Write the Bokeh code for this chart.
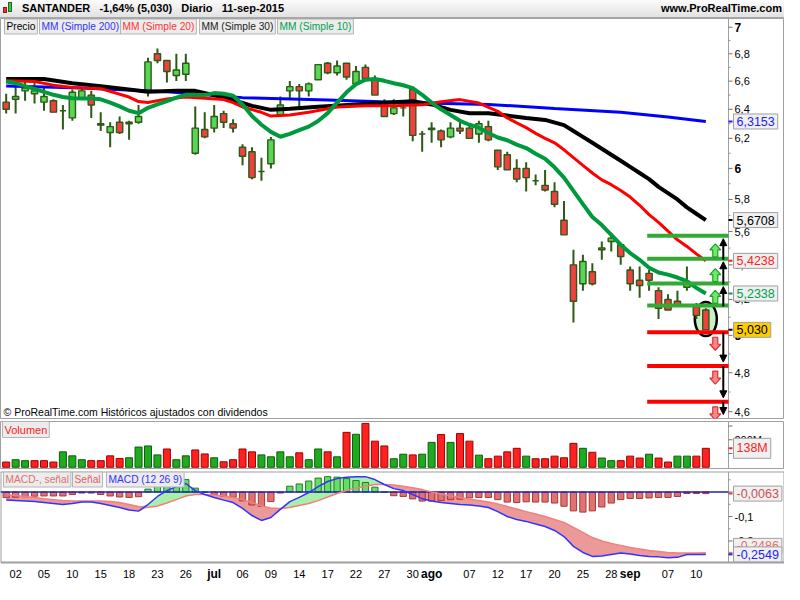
import math
from bokeh.plotting import figure
from bokeh.models import Range1d, Label, Div, ColumnDataSource, Arrow, NormalHead
from bokeh.layouts import column
from bokeh.embed import file_html
from bokeh.resources import INLINE
from bokeh.core.properties import value

# ---------------- data ----------------
tick_pos = [1, 4, 7, 10, 13, 16, 19, 22, 25, 28, 31, 34, 37, 40, 43, 45, 49, 52, 55, 58, 61, 64, 66, 70, 73]
tick_text = ["02", "05", "10", "15", "18", "23", "26", "jul", "06", "09", "14", "17", "22", "27", "30",
             "ago", "07", "12", "17", "20", "25", "28", "sep", "07", "10"]
month_ticks = ["jul", "ago", "sep"]

opens = [6.45, 6.47, 6.53, 6.51, 6.45, 6.46, 6.39, 6.34, 6.48, 6.50,
         6.30, 6.24, 6.31, 6.30, 6.31, 6.53, 6.80, 6.75, 6.64, 6.65,
         6.10, 6.26, 6.27, 6.37, 6.30, 6.14, 6.11, 5.98, 6.03, 6.36,
         6.53, 6.56, 6.53, 6.61, 6.73, 6.66, 6.73, 6.58, 6.70, 6.61,
         6.44, 6.37, 6.41, 6.54, 6.23, 6.26, 6.25, 6.21, 6.27, 6.27,
         6.23, 6.28, 6.12, 6.09, 6.00, 6.00, 5.92, 5.89, 5.85, 5.67,
         5.40, 5.29, 5.36, 5.49, 5.54, 5.52, 5.37, 5.31, 5.35, 5.25,
         5.20, 5.19, 5.27, 5.16, 5.14]
highs = [6.51, 6.58, 6.60, 6.63, 6.55, 6.47, 6.43, 6.54, 6.55, 6.53,
         6.38, 6.31, 6.35, 6.32, 6.43, 6.77, 6.84, 6.75, 6.80, 6.80,
         6.42, 6.38, 6.43, 6.39, 6.33, 6.16, 6.14, 6.07, 6.21, 6.49,
         6.60, 6.58, 6.59, 6.72, 6.74, 6.75, 6.73, 6.71, 6.72, 6.64,
         6.47, 6.47, 6.45, 6.54, 6.25, 6.31, 6.26, 6.31, 6.31, 6.29,
         6.32, 6.32, 6.12, 6.11, 6.06, 6.04, 5.96, 5.99, 5.91, 5.79,
         5.49, 5.46, 5.41, 5.54, 5.59, 5.52, 5.39, 5.39, 5.37, 5.27,
         5.23, 5.25, 5.39, 5.18, 5.15]
lows = [6.37, 6.37, 6.46, 6.44, 6.39, 6.38, 6.26, 6.32, 6.47, 6.34,
        6.25, 6.14, 6.23, 6.19, 6.30, 6.49, 6.73, 6.59, 6.60, 6.60,
        6.09, 6.20, 6.24, 6.27, 6.24, 6.02, 5.93, 5.92, 6.00, 6.36,
        6.48, 6.41, 6.49, 6.61, 6.65, 6.64, 6.61, 6.58, 6.61, 6.50,
        6.35, 6.36, 6.35, 6.18, 6.11, 6.17, 6.14, 6.20, 6.23, 6.20,
        6.17, 6.18, 5.99, 5.99, 5.91, 5.85, 5.89, 5.85, 5.75, 5.58,
        5.07, 5.25, 5.28, 5.43, 5.48, 5.40, 5.25, 5.21, 5.25, 5.09,
        5.14, 5.16, 5.25, 5.09, 5.03]
closes = [6.40, 6.49, 6.55, 6.53, 6.49, 6.38, 6.39, 6.52, 6.53, 6.43,
          6.29, 6.28, 6.24, 6.31, 6.35, 6.74, 6.75, 6.67, 6.68, 6.73,
          6.27, 6.21, 6.35, 6.31, 6.27, 6.08, 5.94, 5.98, 6.19, 6.43,
          6.56, 6.53, 6.58, 6.72, 6.66, 6.71, 6.63, 6.67, 6.62, 6.50,
          6.35, 6.41, 6.41, 6.22, 6.23, 6.27, 6.19, 6.27, 6.25, 6.20,
          6.30, 6.19, 6.01, 5.99, 5.93, 5.94, 5.92, 5.86, 5.77, 5.58,
          5.19, 5.42, 5.29, 5.50, 5.56, 5.45, 5.29, 5.28, 5.31, 5.15,
          5.14, 5.17, 5.29, 5.11, 5.03]

volume_m = [38, 55, 48, 48, 48, 38, 112, 83, 55, 48,
            48, 83, 64, 69, 147, 155, 90, 133, 55, 83,
            126, 97, 69, 40, 55, 133, 112, 90, 76, 112,
            76, 105, 55, 133, 112, 76, 254, 240, 319, 190,
            155, 62, 95, 90, 95, 181, 238, 181, 245, 190,
            88, 62, 81, 112, 138, 81, 62, 62, 81, 69,
            174, 138, 109, 67, 48, 48, 81, 67, 95, 67,
            38, 81, 81, 81, 138]

ma10 = [6.597, 6.585, 6.564, 6.544, 6.523, 6.502, 6.486, 6.478, 6.475, 6.475,
        6.47, 6.447, 6.42, 6.39, 6.373, 6.41, 6.434, 6.457, 6.482, 6.502,
        6.50, 6.50, 6.514, 6.509, 6.495, 6.434, 6.353, 6.293, 6.244, 6.211,
        6.231, 6.256, 6.28, 6.319, 6.373, 6.447, 6.52, 6.578, 6.61, 6.615,
        6.602, 6.585, 6.57, 6.55, 6.502, 6.447, 6.40, 6.36, 6.32, 6.293,
        6.273, 6.236, 6.206, 6.187, 6.158, 6.135, 6.097, 6.064, 6.007, 5.94,
        5.855, 5.77, 5.69, 5.64, 5.58, 5.52, 5.47, 5.43, 5.383, 5.355,
        5.343, 5.326, 5.305, 5.266, 5.2338]

ma20_idx = [0, 3, 5, 7, 10, 13, 14, 15, 17, 19, 21, 23, 24, 25, 27, 28, 30, 32, 35, 38,
            41, 44, 46, 48, 50, 52, 53, 54, 55, 56, 57, 58, 59, 60, 61, 62, 63, 64,
            65, 66, 67, 68, 69, 70, 71, 72, 73, 74]
ma20 = [6.602, 6.597, 6.571, 6.554, 6.546, 6.486, 6.454, 6.447, 6.473, 6.486,
        6.478, 6.468, 6.447, 6.416, 6.379, 6.353, 6.36, 6.379, 6.416, 6.424,
        6.424, 6.431, 6.453, 6.468, 6.444, 6.386, 6.34, 6.306, 6.273, 6.234,
        6.20, 6.17, 6.123, 6.071, 6.02, 5.97, 5.925, 5.894, 5.857, 5.815,
        5.763, 5.705, 5.657, 5.603, 5.55, 5.51, 5.465, 5.4238]

ma30_idx = [0, 4, 7, 10, 15, 18, 20, 22, 24, 26, 28, 30, 33, 37, 41, 43, 45, 47, 49, 51,
            53, 55, 57, 59, 60, 61, 62, 63, 64, 65, 66, 67, 68, 69, 70, 71, 72, 73, 74]
ma30 = [6.615, 6.615, 6.585, 6.564, 6.523, 6.53, 6.53, 6.499, 6.465, 6.424,
        6.396, 6.403, 6.417, 6.434, 6.45, 6.457, 6.434, 6.396, 6.373, 6.373,
        6.356, 6.34, 6.326, 6.29, 6.25, 6.21, 6.17, 6.13, 6.09, 6.05,
        6.01, 5.97, 5.93, 5.88, 5.84, 5.80, 5.75, 5.71, 5.6708]

ma200_idx = [0, 8, 17, 25, 34, 42, 51, 58, 65, 70, 74]
ma200 = [6.564, 6.55, 6.523, 6.482, 6.465, 6.447, 6.434, 6.406, 6.379, 6.346, 6.3153]

macd = [-0.033, -0.035, -0.037, -0.039, -0.043, -0.047, -0.051, -0.047, -0.041, -0.041,
        -0.047, -0.055, -0.063, -0.073, -0.078, -0.051, -0.018, 0.006, 0.022, 0.035,
        0.006, -0.010, -0.022, -0.033, -0.043, -0.067, -0.096, -0.116, -0.104, -0.071,
        -0.039, -0.022, -0.002, 0.022, 0.043, 0.055, 0.061, 0.063, 0.063, 0.051,
        0.031, 0.014, 0.006, -0.010, -0.027, -0.037, -0.043, -0.047, -0.051, -0.053,
        -0.057, -0.063, -0.080, -0.100, -0.112, -0.120, -0.131, -0.141, -0.157, -0.182,
        -0.222, -0.247, -0.263, -0.261, -0.255, -0.249, -0.253, -0.259, -0.263, -0.265,
        -0.269, -0.267, -0.255, -0.255, -0.2549]
signal = [-0.010, -0.014, -0.018, -0.022, -0.027, -0.031, -0.035, -0.037, -0.037, -0.037,
          -0.037, -0.039, -0.043, -0.051, -0.059, -0.063, -0.057, -0.045, -0.031, -0.016,
          -0.010, -0.010, -0.012, -0.016, -0.022, -0.031, -0.043, -0.057, -0.065, -0.067,
          -0.063, -0.055, -0.047, -0.035, -0.020, -0.006, 0.006, 0.016, 0.024, 0.031,
          0.031, 0.029, 0.024, 0.018, 0.010, 0.000, -0.008, -0.016, -0.022, -0.029,
          -0.035, -0.041, -0.049, -0.059, -0.069, -0.080, -0.090, -0.100, -0.112, -0.124,
          -0.145, -0.165, -0.186, -0.200, -0.210, -0.218, -0.227, -0.233, -0.239, -0.243,
          -0.247, -0.249, -0.249, -0.249, -0.2486]

green_levels = [5.575, 5.436, 5.291, 5.166]
red_levels = [5.017, 4.835, 4.65]

price_ticks = [4.6, 4.8, 5.0, 5.2, 5.4, 5.6, 5.8, 6.0, 6.2, 6.4, 6.6, 6.8, 7.0]
price_minor = [4.7, 4.9, 5.1, 5.3, 5.5, 5.7, 5.9, 6.1, 6.3, 6.5, 6.7, 6.9]
vol_ticks = [100, 200, 300]
macd_ticks = [-0.2, -0.1, 0.0]
macd_minor = [-0.25, -0.15, -0.05, 0.05]

# ---------------- layout constants ----------------
FONT = "Liberation Sans"
TOTAL_W = 784
PLOT_W = 728
PRICE_H = 400
VOL_H = 47
MACD_H = 91
XLAB_H = 22

n = len(closes)
x = list(range(n))
X0, AXIS_X = -0.6, 76.4
KX = PLOT_W / (AXIS_X - X0)
xr = Range1d(X0, AXIS_X + (TOTAL_W - PLOT_W) / KX)

P_BOT, P_TOP = 4.566, 7.067
KY = PRICE_H / math.log(P_TOP / P_BOT)
V_BOT, V_TOP = -9, 333
KV = VOL_H / (V_TOP - V_BOT)
M_BOT, M_TOP = -0.288, 0.084
KM = MACD_H / (M_TOP - M_BOT)
M_EXT = M_BOT - XLAB_H / KM

AX_COL = "#A0A0A0"


def base_fig(h, y_range, **kw):
    f = figure(frame_width=TOTAL_W, frame_height=h, x_range=xr, y_range=y_range,
               x_axis_location=None, y_axis_location=None, toolbar_location=None,
               output_backend="svg", min_border_left=0, min_border_right=0,
               min_border_top=0, **kw)
    f.grid.visible = False
    f.outline_line_color = AX_COL
    f.border_fill_color = "white"
    return f


def right_axis(f, ticks, labels, minor, y0, y1, bold=()):
    f.segment(x0=[AXIS_X], x1=[AXIS_X], y0=[y0], y1=[y1], line_color=AX_COL, line_width=1)
    f.segment(x0=[AXIS_X] * len(ticks), x1=[AXIS_X + 4 / KX] * len(ticks), y0=ticks, y1=ticks,
              line_color="#707070", line_width=1)
    if minor:
        f.segment(x0=[AXIS_X] * len(minor), x1=[AXIS_X + 2 / KX] * len(minor), y0=minor, y1=minor,
                  line_color="#909090", line_width=1)
    reg = [(t, s) for t, s in zip(ticks, labels) if s and s not in bold]
    bld = [(t, s) for t, s in zip(ticks, labels) if s in bold]
    if reg:
        f.text(x=[AXIS_X + 6 / KX] * len(reg), y=[t for t, s in reg], text=[s for t, s in reg],
               text_font=value(FONT), text_font_size="11px", text_baseline="middle",
               text_align="left", text_color="black")
    if bld:
        f.text(x=[AXIS_X + 6 / KX] * len(bld), y=[t for t, s in bld], text=[s for t, s in bld],
               text_font=value(FONT), text_font_size="12px", text_font_style="bold",
               text_baseline="middle", text_align="left", text_color="black")


def right_box(f, y, text, color, bg="#F0F0F0", ymark=None):
    ym = y if ymark is None else ymark
    f.segment(x0=[AXIS_X], x1=[AXIS_X + 4 / KX], y0=[ym], y1=[ym], line_color=color, line_width=2)
    f.add_layout(Label(x=AXIS_X, y=y, x_offset=5, text=text, text_color=color,
                       text_font=FONT, text_font_size="12.5px", text_align="left",
                       text_baseline="middle", background_fill_color=bg,
                       border_line_color="#A0A0A0", padding=3))


def tag(f, y, px, text, color):
    f.add_layout(Label(x=X0, y=y, x_offset=px, text=text, text_color=color,
                       text_font=FONT, text_font_size="10.2px", text_align="left",
                       text_baseline="middle", background_fill_color="#ECECEC",
                       border_line_color="#B4B4B4", padding=2))


def fmt_price(t):
    return str(int(round(t))) if abs(t - round(t)) < 1e-9 else ("%.1f" % t).replace(".", ",")


# ---------------- header ----------------
header_html = (
    '<div style="width:784px;height:18px;box-sizing:border-box;border-bottom:1px solid #A8A8A8;'
    'background:linear-gradient(#FBFBFB,#E2E2E2);display:flex;align-items:center;'
    'justify-content:space-between;font-family:\'Liberation Sans\',Arial,sans-serif;'
    'font-weight:bold;font-size:11px;color:#000;">'
    '<span style="display:flex;align-items:center;padding-left:3px;">'
    '<span style="display:inline-block;width:4px;height:6px;background:#E33;border:1px solid #722;margin-top:4px;"></span>'
    '<span style="display:inline-block;width:4px;height:10px;background:#3C3;border:1px solid #262;margin-left:1px;margin-bottom:3px;"></span>'
    '<span style="margin-left:10px;white-space:pre;">SANTANDER   -1,64% (5,030)   Diario   11-sep-2015</span></span>'
    '<span style="padding-right:2px;">www.ProRealTime.com</span></div>')
header = Div(text=header_html, width=TOTAL_W, height=18, margin=(0, 0, 0, 0))

# ---------------- price panel ----------------
p = base_fig(PRICE_H, Range1d(P_BOT, P_TOP), y_axis_type="log", min_border_bottom=3)
right_axis(p, price_ticks, [fmt_price(t) for t in price_ticks], price_minor, P_BOT, P_TOP,
           bold=("7", "6", "5"))

WICK = "#2D5A16"
c_src = ColumnDataSource(dict(
    x=x, high=highs, low=lows,
    top=[max(o, c) for o, c in zip(opens, closes)],
    bottom=[min(o, c) for o, c in zip(opens, closes)],
    color=["#56D856" if c >= o else "#F24040" for o, c in zip(opens, closes)]))

p.ellipse(x=[x[-1]], y=[math.sqrt(highs[-1] * lows[-1])], width=22, height=34,
          width_units="screen", height_units="screen", fill_color="#C8F0C8",
          line_color="black", line_width=2.5)

p.segment(x0="x", y0="high", x1="x", y1="low", line_color=WICK, line_width=2, source=c_src)
p.vbar(x="x", width=0.66, top="top", bottom="bottom", fill_color="color",
       line_color=WICK, line_width=1.4, source=c_src)

p.line(ma200_idx, ma200, line_color="#0000FF", line_width=3)
p.line(ma30_idx, ma30, line_color="#000000", line_width=4)
p.line(ma20_idx, ma20, line_color="#FF0000", line_width=3)
p.line(x, ma10, line_color="#00993D", line_width=4)

LX0 = 67.8
p.segment(x0=[LX0] * len(green_levels), x1=[AXIS_X] * len(green_levels), y0=green_levels,
          y1=green_levels, line_color="#33AA33", line_width=4)
p.segment(x0=[LX0] * len(red_levels), x1=[AXIS_X] * len(red_levels), y0=red_levels,
          y1=red_levels, line_color="#FF0000", line_width=4)


def block_arrow(cx, y0, up=True):
    s = 1 if up else -1
    pts = [(-2.5, 0), (2.5, 0), (2.5, 7), (5.5, 7), (0, 13), (-5.5, 7), (-2.5, 7)]
    xs = [cx + dx / KX for dx, dy in pts]
    ys = [y0 * math.exp(s * dy / KY) for dx, dy in pts]
    return xs, ys


AX_BLOCK = 75.0
AX_LINE = 75.85
gxs, gys = [], []
for lvl in green_levels[1:]:
    a, b = block_arrow(AX_BLOCK, lvl * math.exp(2 / KY), True)
    gxs.append(a)
    gys.append(b)
p.patches(gxs, gys, fill_color="#6BEB6B", line_color="#22A022", line_width=1.2)
rxs, rys = [], []
for lvl in red_levels:
    a, b = block_arrow(AX_BLOCK, lvl * math.exp(-5 / KY), False)
    rxs.append(a)
    rys.append(b)
p.patches(rxs, rys, fill_color="#F08A8A", line_color="#E03030", line_width=1.2)

for lo, hi in zip(green_levels[1:], green_levels[:-1]):
    p.add_layout(Arrow(end=NormalHead(size=7, fill_color="black", line_color="black"),
                       x_start=AX_LINE, y_start=lo * math.exp(-1 / KY), x_end=AX_LINE,
                       y_end=hi * math.exp(-3 / KY), line_color="black", line_width=2))
red_ends = red_levels[1:] + [P_BOT]
for hi, lo in zip(red_levels, red_ends):
    p.add_layout(Arrow(end=NormalHead(size=7, fill_color="black", line_color="black"),
                       x_start=AX_LINE, y_start=hi, x_end=AX_LINE,
                       y_end=lo * math.exp(4 / KY), line_color="black", line_width=2))

ytag = P_TOP * math.exp(-8 / KY)
tag(p, ytag, 4, "Precio", "#000000")
tag(p, ytag, 39, "MM (Simple 200)", "#3333FF")
tag(p, ytag, 120, "MM (Simple 20)", "#FF3333")
tag(p, ytag, 199, "MM (Simple 30)", "#222222")
tag(p, ytag, 277, "MM (Simple 10)", "#00A050")

p.add_layout(Label(x=X0, y=P_BOT * math.exp(7 / KY), x_offset=3,
                   text="\u00a9 ProRealTime.com Hist\u00f3ricos ajustados con dividendos",
                   text_font=FONT, text_font_size="10.5px", text_color="black",
                   text_baseline="middle"))

right_box(p, ma200[-1], "6,3153", "#2020FF")
right_box(p, ma30[-1], "5,6708", "#000000")
right_box(p, ma20[-1], "5,4238", "#FF2020")
right_box(p, ma10[-1], "5,2338", "#00A050")
right_box(p, closes[-1], "5,030", "#000000", bg="#FFCC00")

# ---------------- volume panel ----------------
v = base_fig(VOL_H, Range1d(V_BOT, V_TOP), min_border_bottom=3)
right_axis(v, vol_ticks, ["", "200M", ""], None, V_BOT, V_TOP)
up = [closes[0] >= opens[0]] + [closes[i] >= closes[i - 1] for i in range(1, n)]
v_src = ColumnDataSource(dict(
    x=x, top=volume_m,
    fill=["#1FAA1F" if u else "#FF2020" for u in up],
    line=["#0B5E0B" if u else "#9A0000" for u in up]))
v.vbar(x="x", width=0.74, top="top", bottom=0, fill_color="fill", line_color="line",
       line_width=1, source=v_src)
v.add_layout(Label(x=X0, y=V_TOP - 8 / KV, x_offset=2, text="Volumen",
                   text_color="#FF2020", text_font=FONT, text_font_size="11px",
                   text_baseline="middle", background_fill_color="#ECECEC",
                   border_line_color="#B4B4B4", padding=2))
right_box(v, volume_m[-1], "138M", "#FF2020")

# ---------------- MACD panel (with date labels strip) ----------------
m = base_fig(MACD_H + XLAB_H, Range1d(M_EXT, M_TOP), min_border_bottom=0)
m.outline_line_color = None
xe = xr.end
m.segment(x0=[X0, X0, X0, xe], x1=[xe, xe, X0, xe], y0=[M_TOP, M_BOT, M_BOT, M_BOT],
          y1=[M_TOP, M_BOT, M_TOP, M_TOP], line_color=AX_COL, line_width=2)
right_axis(m, macd_ticks, ["-0,2", "-0,1", "0"], macd_minor, M_BOT, M_TOP)

hist = [a - b for a, b in zip(macd, signal)]
upper = [max(a, b) for a, b in zip(macd, signal)]
lower = [min(a, b) for a, b in zip(macd, signal)]
m.varea(x=x, y1=signal, y2=upper, fill_color="#A4EEA4", fill_alpha=0.95)
m.varea(x=x, y1=lower, y2=signal, fill_color="#EA8E8E", fill_alpha=0.9)
h_src = ColumnDataSource(dict(
    x=x, top=[max(h, 0) for h in hist], bottom=[min(h, 0) for h in hist],
    fill=["#66DD66" if h >= 0 else "#E07272" for h in hist],
    line=["#1E7E1E" if h >= 0 else "#A83838" for h in hist]))
m.vbar(x="x", width=0.66, top="top", bottom="bottom", fill_color="fill", line_color="line",
       line_width=1, source=h_src)
m.segment(x0=[X0], x1=[AXIS_X], y0=[0], y1=[0], line_color="#2020B0", line_width=1.5)
m.line(x, signal, line_color="#F08080", line_width=1.5)
m.line(x, macd, line_color="#3333FF", line_width=1.5)

ymtag = M_TOP - 8 / KM
tag(m, ymtag, 3, "MACD-, se\u00f1al", "#E07070")
tag(m, ymtag, 72, "Se\u00f1al", "#E06060")
tag(m, ymtag, 106, "MACD (12 26 9)", "#3333FF")

right_box(m, hist[-1], "-0,0063", "#C85050")
right_box(m, signal[-1] + 7 / KM, "-0,2486", "#E07070", ymark=signal[-1])
right_box(m, macd[-1], "-0,2549", "#2020FF")

ylab = M_BOT - 11 / KM
days = [(t, s) for t, s in zip(tick_pos, tick_text) if s not in month_ticks]
months = [(t, s) for t, s in zip(tick_pos, tick_text) if s in month_ticks]
m.text(x=[t for t, s in days], y=[ylab] * len(days), text=[s for t, s in days],
       text_font=value(FONT), text_font_size="11px", text_align="center",
       text_baseline="middle", text_color="black")
m.text(x=[t for t, s in months], y=[ylab] * len(months), text=[s for t, s in months],
       text_font=value(FONT), text_font_size="12px", text_font_style="bold",
       text_align="center", text_baseline="middle", text_color="black")

layout = column(header, p, v, m, spacing=0)
open("out.html", "w").write(file_html(layout, INLINE))
